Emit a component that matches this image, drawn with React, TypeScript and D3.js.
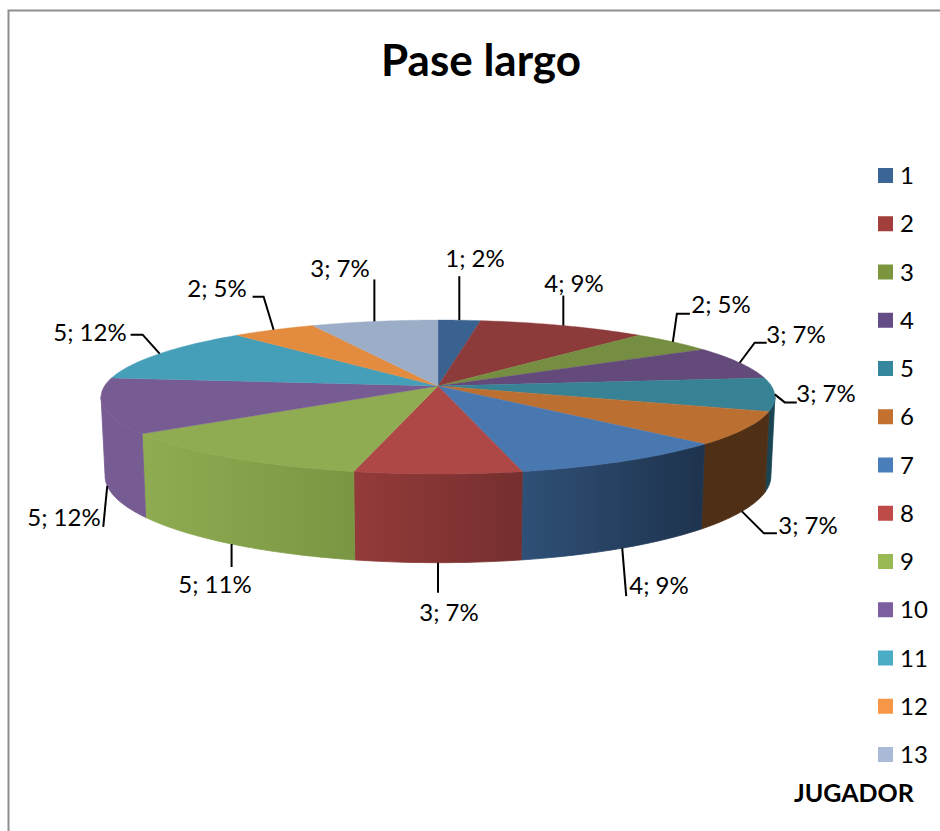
import React from "react";
import * as d3 from "d3";

const title = "Pase largo";
const axisTitle = "JUGADOR";
const categories = ["1", "2", "3", "4", "5", "6", "7", "8", "9", "10", "11", "12", "13"];
const values = [1, 4, 2, 3, 3, 3, 4, 3, 5, 5, 5, 2, 3];
const percents = [2, 9, 5, 7, 7, 7, 9, 7, 11, 12, 12, 5, 7];
const topColors = ["#3a6291", "#8c3b3a", "#768e41", "#634a7a", "#388296", "#bb7031", "#4977b0", "#ad4846", "#8fac52", "#775b93", "#469fb9", "#e38b3e", "#9cadc8"];
const legendColors = ["#3a6595", "#a23e3b", "#7c963f", "#644c86", "#35879e", "#c4702e", "#4a7ebb", "#be4b48", "#98b954", "#7d5fa0", "#4bacc6", "#f79646", "#aabad7"];
const wallFrom = ["#2a4a6e", "#6a2c2b", "#586a31", "#4a375b", "#1a4452", "#4f3017", "#2f5077", "#933b3a", "#8fac52", "#775b93", "#357787", "#aa6830", "#75829a"];
const wallTo = ["#2a4a6e", "#6a2c2b", "#586a31", "#4a375b", "#1a4452", "#4f3017", "#1e334d", "#752f2e", "#7a9642", "#775b93", "#357787", "#aa6830", "#75829a"];

// leader elbows, relative to the slice's rim point
const leaders: [number, number][][] = [
  [[0, -44]],
  [[0, -30]],
  [[4, -28], [17, -28]],
  [[15, -20], [27, -20]],
  [[10, 8], [22, 8]],
  [[22, 22], [35, 22]],
  [[4, 48]],
  [[0, 30]],
  [[0, 23]],
  [[-4, 41]],
  [[-17, -19], [-29, -19]],
  [[-10, -33], [-21, -33]],
  [[0, -42]],
];
const labelPos: [number, number][] = [
  [475, 267], [574, 292], [721, 313], [796, 343], [826, 402],
  [808, 534], [659, 594], [449, 621], [215, 593], [64, 526],
  [90, 341], [217, 297], [340, 277],
];

const W = 940, H = 831;
const FONT = "Lato, 'Open Sans', sans-serif";
const cx = 438, k = 0.143;
const topPlane = { y: 386, rx: 333.5, ry: 75.4 };
const bottomPlane = { y: 463.5, rx: 329.5, ry: 85 };

// projective view of the pie's circular disc
const project = (a: number, p: { y: number; rx: number; ry: number }): [number, number] => {
  const u = Math.sin(a), v = -Math.cos(a), w = 1 / (1 - k * v);
  return [cx + p.rx * u * w, p.y + p.ry * v * w];
};

const arcs = d3.pie<number>().sort(null).value((d) => d)(values);
const lineGen = d3.line();
const sample = (a0: number, a1: number) => {
  const n = Math.max(2, Math.ceil(Math.abs(a1 - a0) * 60));
  return d3.range(n + 1).map((i) => a0 + ((a1 - a0) * i) / n);
};
const wallMin = (98 * Math.PI) / 180, wallMax = (262 * Math.PI) / 180;

const legendY = d3.scalePoint<string>().domain(categories).range([175.5, 754.5]);

export default function App() {
  return (
    <svg width={W} height={H} viewBox={`0 0 ${W} ${H}`} style={{ position: "absolute", left: 0, top: 0, background: "#fff" }}>
      <defs>
        {categories.map((c, i) => (
          <linearGradient key={c} id={`wall${i}`} x1="0" x2="1" y1="0" y2="0">
            <stop offset="0" stopColor={wallFrom[i]} />
            <stop offset="1" stopColor={wallTo[i]} />
          </linearGradient>
        ))}
      </defs>
      <path d={`M8.5,${H} V10.5 H${W}`} fill="none" stroke="#8e8e8e" strokeWidth={2} />
      <text x={481} y={76} textAnchor="middle" fontFamily={FONT} fontWeight={700} fontSize={44} fill="#000">{title}</text>

      {arcs.map((d, i) => {
        const a0 = Math.max(d.startAngle, wallMin), a1 = Math.min(d.endAngle, wallMax);
        if (a1 <= a0) return null;
        const pts = [...sample(a0, a1).map((a) => project(a, topPlane)), ...sample(a1, a0).map((a) => project(a, bottomPlane))];
        return <path key={i} d={lineGen(pts) + "Z"} fill={`url(#wall${i})`} stroke={`url(#wall${i})`} strokeWidth={0.8} />;
      })}

      {arcs.map((d, i) => {
        const pts: [number, number][] = [[cx, topPlane.y], ...sample(d.startAngle, d.endAngle).map((a) => project(a, topPlane))];
        return <path key={i} d={lineGen(pts) + "Z"} fill={topColors[i]} stroke={topColors[i]} strokeWidth={0.4} />;
      })}

      {arcs.map((d, i) => {
        const mid = (d.startAngle + d.endAngle) / 2;
        const front = mid > wallMin && mid < wallMax;
        const start = project(mid, front ? bottomPlane : topPlane);
        const pts: [number, number][] = [start, ...leaders[i].map(([dx, dy]): [number, number] => [start[0] + dx, start[1] + dy])];
        return <path key={i} d={lineGen(pts)!} fill="none" stroke="#000" strokeWidth={2} />;
      })}

      {categories.map((c, i) => (
        <text key={c} x={labelPos[i][0]} y={labelPos[i][1]} textAnchor="middle" fontFamily={FONT} fontSize={24} fill="#000">
          {`${values[i]}; ${percents[i]}%`}
        </text>
      ))}

      {categories.map((c, i) => {
        const y = legendY(c)!;
        return (
          <g key={c}>
            <rect x={878} y={y - 7.5} width={15} height={15} fill={legendColors[i]} />
            <text x={900} y={y + 8.5} fontFamily={FONT} fontSize={24} fill="#000">{c}</text>
          </g>
        );
      })}
      <text x={794} y={802} fontFamily={FONT} fontWeight={700} fontSize={25} fill="#000">{axisTitle}</text>
    </svg>
  );
}
